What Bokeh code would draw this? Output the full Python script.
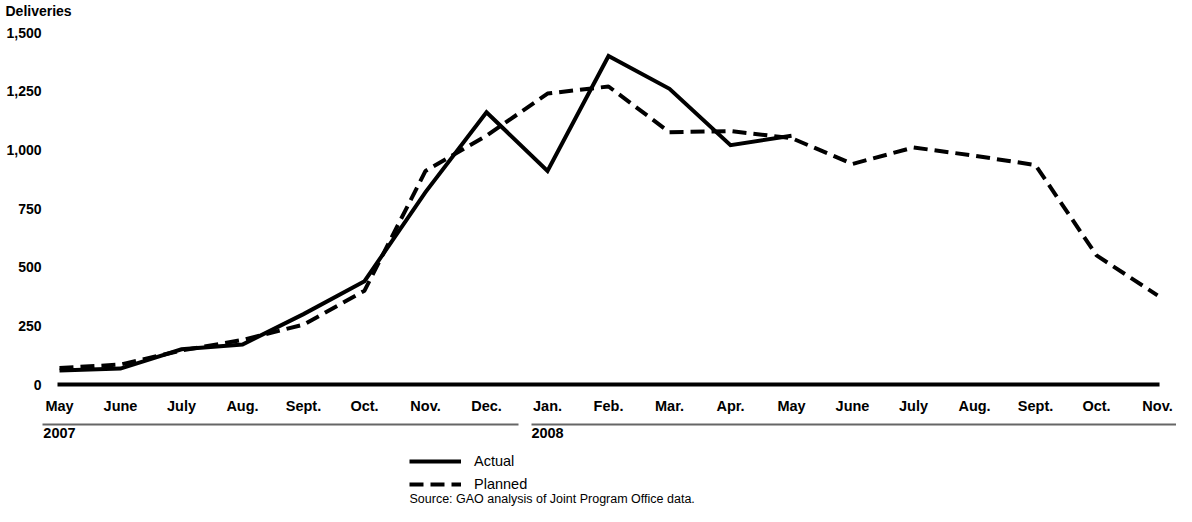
from bokeh.plotting import figure
from bokeh.layouts import column
from bokeh.models import (FixedTicker, LinearAxis, Legend, LegendItem, Title, Label,
                          Range1d, NumeralTickFormatter, ColumnDataSource)
from bokeh.embed import file_html
from bokeh.resources import INLINE

# ---- data ----
months = ["May", "June", "July", "Aug.", "Sept.", "Oct.", "Nov.", "Dec.", "Jan.",
          "Feb.", "Mar.", "Apr.", "May", "June", "July", "Aug.", "Sept.", "Oct.", "Nov."]
years = ["2007", "2008"]
year_start_index = [0, 8]
actual = [60, 68, 150, 170, 300, 440, 820, 1160, 910, 1400, 1260, 1020, 1060]
planned = [70, 85, 145, 190, 255, 400, 910, 1060, 1240, 1270, 1075, 1080, 1050,
           940, 1010, 975, 935, 550, 380]
y_ticks = [0, 250, 500, 750, 1000, 1250, 1500]
series_names = ["Actual", "Planned"]
source_note = "Source: GAO analysis of Joint Program Office data."

FONT = "Liberation Sans"

p = figure(frame_width=1134, frame_height=375, output_backend="svg",
           toolbar_location=None,
           x_range=Range1d(-0.2787, 18.311), y_range=Range1d(-38.35, 1559.7),
           min_border_left=42, min_border_right=0, min_border_top=0,
           min_border_bottom=0, x_axis_type=None, y_axis_type=None, title=None)
p.outline_line_color = None
p.background_fill_color = "white"
p.border_fill_color = "white"

# y axis title
p.add_layout(Title(text="Deliveries", align="left", offset=-37, standoff=0,
                   text_font=FONT, text_font_style="bold", text_font_size="14px",
                   text_color="black"), "above")

# baseline
p.segment(x0=[0], y0=[0], x1=[len(months) - 1], y1=[0], line_color="black",
          line_width=4, line_cap="square")

src_a = ColumnDataSource(dict(x=list(range(len(actual))), y=actual))
src_p = ColumnDataSource(dict(x=list(range(len(planned))), y=planned))
STYLE_P = dict(line_color="black", line_width=4, line_dash="14 7")
STYLE_A = dict(line_color="black", line_width=4, line_join="miter")
p.line("x", "y", source=src_p, **STYLE_P)
p.line("x", "y", source=src_a, **STYLE_A)

# y axis
yax = LinearAxis(ticker=FixedTicker(ticks=y_ticks),
                 formatter=NumeralTickFormatter(format="0,0"))
yax.axis_line_color = None
yax.major_tick_line_color = None
yax.minor_tick_line_color = None
yax.major_tick_out = 0
yax.major_label_standoff = 1
yax.major_label_text_font = FONT
yax.major_label_text_font_style = "bold"
yax.major_label_text_font_size = "14px"
yax.major_label_text_color = "black"
p.add_layout(yax, "left")

# month axis
xax = LinearAxis(ticker=FixedTicker(ticks=list(range(len(months)))),
                 major_label_overrides={i: m for i, m in enumerate(months)})
xax.axis_line_color = None
xax.major_tick_line_color = None
xax.minor_tick_line_color = None
xax.major_tick_out = 0
xax.major_label_standoff = 4
xax.major_label_text_font = FONT
xax.major_label_text_font_style = "bold"
xax.major_label_text_font_size = "14.5px"
xax.major_label_text_color = "black"
xax.axis_label = " "
xax.axis_label_text_font_size = "4px"
xax.axis_label_standoff = 0
p.add_layout(xax, "below")

# year axis
yrax = LinearAxis(ticker=FixedTicker(ticks=year_start_index),
                  major_label_overrides={i: y for i, y in zip(year_start_index, years)})
yrax.axis_line_color = "#666666"
yrax.axis_line_width = 2
yrax.axis_line_dash = "476 13 2000"
yrax.major_tick_line_color = None
yrax.minor_tick_line_color = None
yrax.major_tick_out = 0
yrax.major_label_standoff = 3
yrax.major_label_text_font = FONT
yrax.major_label_text_font_style = "bold"
yrax.major_label_text_font_size = "14.5px"
yrax.major_label_text_color = "black"
p.add_layout(yrax, "below")

# ---- legend + source strip ----
H2 = 66
q = figure(frame_width=1134, frame_height=H2, output_backend="svg",
           toolbar_location=None,
           x_range=Range1d(0, 1134), y_range=Range1d(0, H2),
           min_border_left=42, min_border_right=0, min_border_top=0,
           min_border_bottom=0, x_axis_type=None, y_axis_type=None, title=None)
q.outline_line_color = None
q.background_fill_color = "white"
q.border_fill_color = "white"

nan = float("nan")
la = q.line(x=[nan], y=[nan], **STYLE_A)
lp = q.line(x=[nan], y=[nan], **STYLE_P)
legend = Legend(items=[LegendItem(label=series_names[0], renderers=[la]),
                       LegendItem(label=series_names[1], renderers=[lp])],
                location=(367, 12), orientation="vertical")
legend.glyph_width = 52
legend.glyph_height = 20
legend.label_standoff = 13
legend.spacing = 3
legend.padding = 0
legend.margin = 0
legend.border_line_color = None
legend.background_fill_alpha = 0
legend.label_text_font = FONT
legend.label_text_font_size = "14.5px"
legend.label_text_color = "black"
q.add_layout(legend)

q.add_layout(Label(x=367, x_units="screen", y=8, y_units="screen",
                   text=source_note, text_font=FONT, text_font_size="12.5px",
                   text_baseline="middle", text_align="left", text_color="black"))

layout = column(p, q, spacing=0)
open("out.html", "w").write(file_html(layout, INLINE))
